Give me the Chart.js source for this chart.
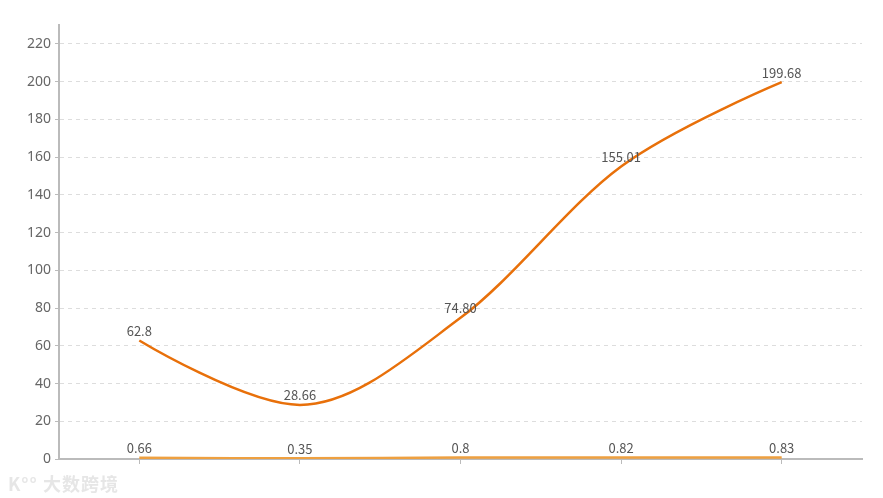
<!DOCTYPE html>
<html>
<head>
<meta charset="utf-8">
<script src="https://cdn.jsdelivr.net/npm/chart.js@4/dist/chart.umd.min.js"></script>
<style>
  html, body { margin: 0; padding: 0; background: #fff; }
  #wrap { position: relative; width: 883px; height: 498px; }
  #watermark { position: absolute; left: 8px; top: 470px; font-family: "Noto Sans CJK SC", sans-serif; font-size: 18px; font-weight: bold; color: #e6e6e6; letter-spacing: 1px; }
</style>
</head>
<body>
<div id="wrap">
  <canvas id="c" width="883" height="498"></canvas>
  <div id="watermark">K°° 大数跨境</div>
</div>
<script>
const categories = ['1', '2', '3', '4', '5'];
const mainSeriesText = ['62.8', '28.66', '74.80', '155.01', '199.68'];
const smallSeriesText = ['0.66', '0.35', '0.8', '0.82', '0.83'];
const yTickValues = [0, 20, 40, 60, 80, 100, 120, 140, 160, 180, 200, 220];

const mainSeries = mainSeriesText.map(Number);
const smallSeries = smallSeriesText.map(Number);

// End points of the smoothed line use themselves as control points
const endpointPlugin = {
  id: 'endpointControl',
  beforeDatasetsDraw(chart) {
    chart.data.datasets.forEach((ds, i) => {
      const meta = chart.getDatasetMeta(i);
      const line = meta.dataset;
      if (!line) return;
      line.updateControlPoints(chart.chartArea, meta.indexAxis);
      const pts = meta.data;
      [pts[0], pts[pts.length - 1]].forEach(p => {
        p.cp1x = p.x; p.cp1y = p.y; p.cp2x = p.x; p.cp2y = p.y;
      });
    });
  }
};

const labelPlugin = {
  id: 'pointLabels',
  afterDatasetsDraw(chart) {
    const ctx = chart.ctx;
    ctx.save();
    ctx.font = '13px "Noto Sans CJK SC", sans-serif';
    ctx.fillStyle = '#555';
    ctx.textAlign = 'center';
    ctx.textBaseline = 'bottom';
    chart.data.datasets.forEach((ds, i) => {
      const meta = chart.getDatasetMeta(i);
      meta.data.forEach((pt, j) => {
        ctx.fillText(ds.labelTexts[j], pt.x, pt.y - 3);
      });
    });
    ctx.restore();
  }
};

new Chart(document.getElementById('c'), {
  type: 'line',
  data: {
    labels: categories,
    datasets: [
      {
        data: mainSeries,
        labelTexts: mainSeriesText,
        borderColor: '#e8700a',
        borderWidth: 2.5,
        pointRadius: 0,
        cubicInterpolationMode: 'monotone',
        fill: false
      },
      {
        data: smallSeries,
        labelTexts: smallSeriesText,
        borderColor: '#eea040',
        borderWidth: 2.5,
        pointRadius: 0,
        cubicInterpolationMode: 'monotone',
        fill: false
      }
    ]
  },
  options: {
    responsive: false,
    animation: false,
    layout: { padding: { top: 25, right: 21, left: 0, bottom: 0 } },
    plugins: { legend: { display: false }, tooltip: { enabled: false } },
    scales: {
      x: {
        offset: true,
        grid: { display: true, offset: false, drawOnChartArea: false, drawTicks: true, tickLength: 5, color: '#bbb', lineWidth: 1 },
        border: { display: true, color: '#bbb', width: 2 },
        ticks: { display: true, callback: () => '', font: { size: 1 } },
        afterFit(scale) { scale.height = 39; }
      },
      y: {
        min: 0,
        max: 230,
        afterBuildTicks(scale) { scale.ticks = yTickValues.map(v => ({ value: v })); },
        grid: { color: '#ddd', lineWidth: 1, drawTicks: true, tickLength: 4, tickColor: '#bbb' },
        border: { display: true, color: '#bbb', width: 2, dash: [4, 4] },
        ticks: { color: '#666', font: { size: 14, family: '"Noto Sans", sans-serif' }, padding: 4 },
        afterFit(scale) { scale.width = 59; }
      }
    }
  },
  plugins: [endpointPlugin, labelPlugin]
});
</script>
</body>
</html>
